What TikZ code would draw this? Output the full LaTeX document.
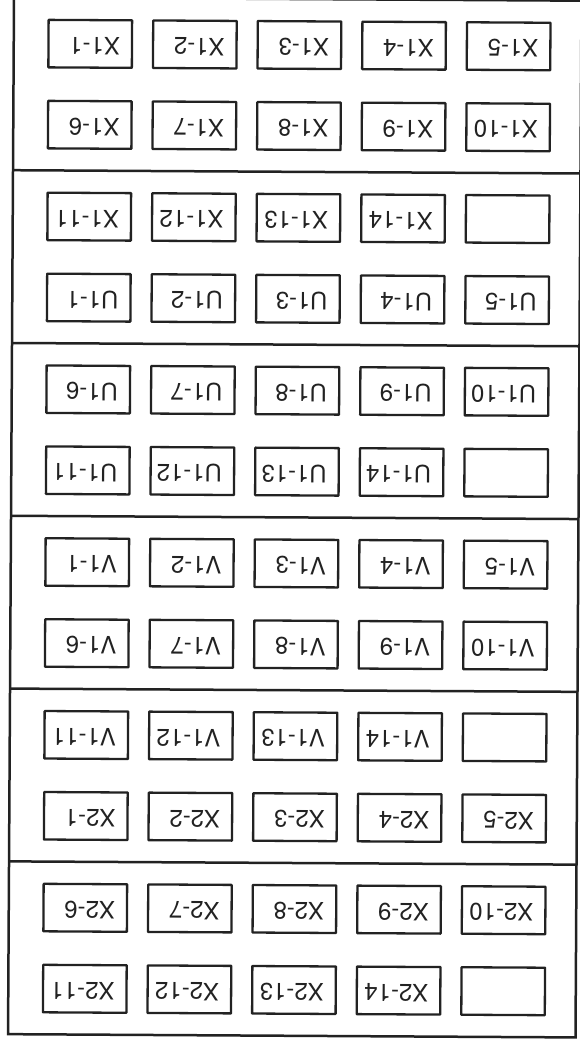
\documentclass[tikz,border=0pt]{standalone}
\usepackage{fontspec}
\setmainfont{TeX Gyre Heros}
\definecolor{ink}{HTML}{222222}
\newcommand{\slottext}[1]{\makebox[59.5pt][l]{#1}}
\tikzset{
  frameline/.style={draw=ink, line width=2.5pt},
  slotbox/.style={draw=ink, line width=2.3pt, line join=round, rectangle,
    minimum width=83.5pt, minimum height=47.5pt, inner xsep=12pt, inner ysep=0pt,
    text height=17pt, text depth=4pt,
    font=\fontsize{24}{28}\selectfont, text=ink, rotate=180, transform shape},
}
\begin{document}
\begin{tikzpicture}[x=1pt,y=1pt]
\useasboundingbox (0,0) rectangle (579,1039);
\begin{scope}[rotate around={-0.33:(290,521)}]
  % outer frame and section dividers
  \draw[frameline] (11,1040) rectangle (578.5,3.2);
  \foreach \k in {1,...,5}{
    \pgfmathsetmacro{\yy}{1039-(-1+172.8*\k)}
    \draw[frameline] (11,\yy) -- (578.5,\yy);
  }
  % slots
  \foreach \lab [count=\k from 0] in {
    X1-1,X1-2,X1-3,X1-4,X1-5,
    X1-6,X1-7,X1-8,X1-9,X1-10,
    X1-11,X1-12,X1-13,X1-14,{},
    U1-1,U1-2,U1-3,U1-4,U1-5,
    U1-6,U1-7,U1-8,U1-9,U1-10,
    U1-11,U1-12,U1-13,U1-14,{},
    V1-1,V1-2,V1-3,V1-4,V1-5,
    V1-6,V1-7,V1-8,V1-9,V1-10,
    V1-11,V1-12,V1-13,V1-14,{},
    X2-1,X2-2,X2-3,X2-4,X2-5,
    X2-6,X2-7,X2-8,X2-9,X2-10,
    X2-11,X2-12,X2-13,X2-14,{}}{
    \pgfmathtruncatemacro{\row}{int(\k/5)}
    \pgfmathtruncatemacro{\col}{mod(\k,5)}
    \pgfmathtruncatemacro{\sec}{int(\row/2)}
    \pgfmathtruncatemacro{\rr}{mod(\row,2)}
    \pgfmathsetmacro{\xx}{87.5+104.6*\col}
    \pgfmathsetmacro{\yy}{1039-(-1+172.8*\sec+(\rr==0?46:127))}
    \node[slotbox] (b\k) at (\xx,\yy) {\slottext{\lab}};
  }
\end{scope}
\end{tikzpicture}
\end{document}
